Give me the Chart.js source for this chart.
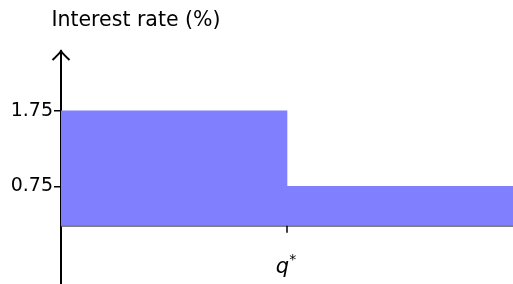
<!DOCTYPE html>
<html>
<head>
<meta charset="utf-8">
<script src="https://cdn.jsdelivr.net/npm/chart.js@4/dist/chart.umd.min.js"></script>
<style>
  html, body { margin: 0; padding: 0; background: #fff; }
  #wrap { width: 513px; height: 284px; }
</style>
</head>
<body>
<div id="wrap"><canvas id="mycanvas"></canvas></div>
<script>
// data
var segments = ['below q*', 'above q*'];
var rates = [1.75, 0.75];
var baseRate = 0.23;
var yTicks = [0.75, 1.75];
var yTitle = 'Interest rate (%)';

var fontFam = "'DejaVu Sans', sans-serif";

// axes arrow, x axis line, q* mark and labels
var decor = {
	id: 'decor',
	afterDraw: function(chart){
		var c = chart.ctx;
		var a = chart.chartArea;
		var ys = chart.scales.y;
		var xs = chart.scales.x;
		var y0 = ys.getPixelForValue(baseRate);
		var xq = (xs.getPixelForValue(0) + xs.getPixelForValue(1)) / 2;
		c.save();
		// x axis
		c.strokeStyle = '#555';
		c.lineWidth = 1;
		c.beginPath();
		c.moveTo(a.left, y0 + 0.5);
		c.lineTo(a.right, y0 + 0.5);
		c.stroke();
		// q* tick
		c.strokeStyle = '#000';
		c.lineWidth = 1.5;
		c.beginPath();
		c.moveTo(xq, y0);
		c.lineTo(xq, y0 + 7);
		c.stroke();
		// arrow head
		c.lineWidth = 2;
		c.beginPath();
		c.moveTo(a.left - 8.5, a.top + 9);
		c.quadraticCurveTo(a.left - 2, a.top + 3, a.left, a.top);
		c.quadraticCurveTo(a.left + 2, a.top + 3, a.left + 8.5, a.top + 9);
		c.stroke();
		// q* label
		c.fillStyle = '#000';
		c.textBaseline = 'alphabetic';
		c.textAlign = 'left';
		c.font = 'italic 21px ' + fontFam;
		var qw = c.measureText('q').width;
		c.font = '14px ' + fontFam;
		var sw = c.measureText('*').width;
		var sx = xq - (qw + sw) / 2 - 1;
		c.font = 'italic 21px ' + fontFam;
		c.fillText('q', sx, 273);
		c.font = '14px ' + fontFam;
		c.fillText('*', sx + qw, 264);
		// y title
		c.font = '20.5px ' + fontFam;
		c.textAlign = 'center';
		c.fillText(yTitle, 136, 26);
		c.restore();
	}
};

var ctx = document.getElementById('mycanvas');
var chart = new Chart(ctx, {
	type: 'bar',
	data: {
		labels: segments,
		datasets: [{
			label: 'Interest rate',
			data: rates.map(function(r){ return [baseRate, r]; }),
			backgroundColor: '#8080ff',
			borderWidth: 0,
			barPercentage: 1,
			categoryPercentage: 1
		}]
	},
	options: {
		responsive: true,
		maintainAspectRatio: false,
		animation: false,
		layout: { padding: { top: 51, right: 0, bottom: 0, left: 0 } },
		plugins: { legend: { display: false }, tooltip: { enabled: false } },
		scales: {
			x: { display: false },
			y: {
				min: -0.54,
				max: 2.54,
				afterBuildTicks: function(s){ s.ticks = yTicks.map(function(v){ return { value: v }; }); },
				afterFit: function(s){ s.width = 61; s.paddingTop = 0; s.paddingBottom = 0; },
				border: { display: true, color: '#000', width: 2 },
				grid: { drawOnChartArea: false, color: '#000', tickLength: 7, lineWidth: 1.5 },
				ticks: {
					padding: 1,
					color: '#000',
					font: { family: fontFam, size: 19 },
					callback: function(v){ return v.toFixed(2); }
				}
			}
		}
	},
	plugins: [decor]
});
</script>
</body>
</html>
